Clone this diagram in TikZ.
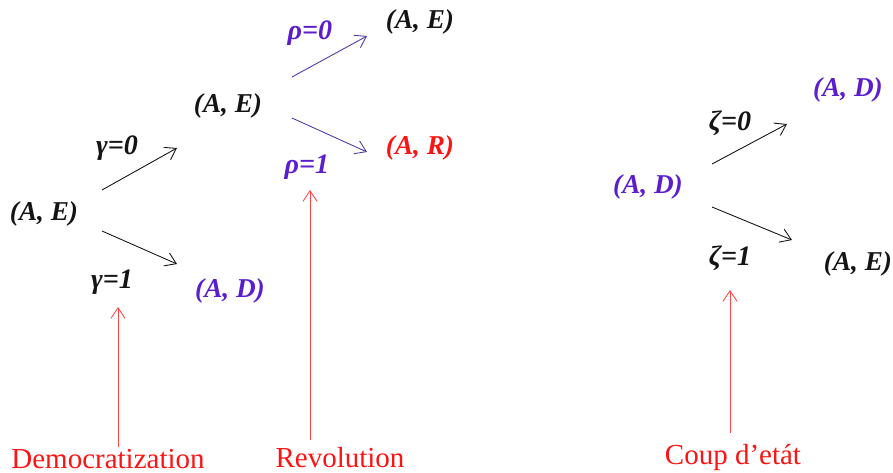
\documentclass[tikz,border=0pt]{standalone}
\usepackage{fontspec}
\setmainfont{Liberation Serif}
\usetikzlibrary{arrows.meta,positioning}
\definecolor{GameBlack}{RGB}{20,20,20}
\definecolor{GamePurple}{RGB}{92,30,205}
\definecolor{GameArrowPurple}{RGB}{78,58,168}
\definecolor{GameRed}{RGB}{250,20,20}
\definecolor{GameArrowRed}{RGB}{255,70,70}

\begin{document}
\begin{tikzpicture}[
x=0.02cm,y=-0.02cm,
outcome/.style={
font=\fontsize{15.5}{18}\selectfont\bfseries\itshape,
inner sep=1pt
},
choice/.style={
font=\fontsize{16}{18}\selectfont\bfseries\itshape,
inner sep=1pt
},
event/.style={
text=GameRed,
font=\fontsize{16.5}{19}\selectfont,
inner sep=1pt
},
move/.style={
-{Straight Barb[length=6pt,width=8pt]},
line width=0.5pt
},
pointer/.style={
-{Straight Barb[length=6pt,width=8pt]},
draw=GameArrowRed,
line width=0.5pt
}
]
\useasboundingbox (0,0) rectangle (893,473);

% democratization tree
\node[outcome,text=GameBlack] (root) at (44,214) {(A, E)};
\node[outcome,text=GameBlack] (keep) at (228,106) {(A, E)};
\node[outcome,text=GamePurple] (demo) at (230,291) {(A, D)};
\node[choice,text=GameBlack] (g0) at (117,148) {γ=0};
\node[choice,text=GameBlack] (g1) at (112,282) {γ=1};

\coordinate (g0s) at (102,190);
\coordinate (g0e) at (177,148);
\coordinate (g1s) at (102,231);
\coordinate (g1e) at (177,264);
\draw[move,GameBlack] (g0s) -- (g0e);
\draw[move,GameBlack] (g1s) -- (g1e);

% revolution tree
\node[outcome,text=GameBlack] (stay) at (420,22) {(A, E)};
\node[outcome,text=GameRed] (revo) at (420,148) {(A, R)};
\node[choice,text=GamePurple] (r0) at (310,33) {ρ=0};
\node[choice,text=GamePurple] (r1) at (307,167) {ρ=1};

\coordinate (r0s) at (292,77);
\coordinate (r0e) at (367,36);
\coordinate (r1s) at (292,118);
\coordinate (r1e) at (367,152);
\draw[move,GameArrowPurple] (r0s) -- (r0e);
\draw[move,GameArrowPurple] (r1s) -- (r1e);

% coup tree
\node[outcome,text=GamePurple] (droot) at (648,187) {(A, D)};
\node[outcome,text=GamePurple] (dkeep) at (848,90) {(A, D)};
\node[outcome,text=GameBlack] (coup) at (858,264) {(A, E)};
\node[choice,text=GameBlack] (z0) at (730,123) {ζ=0};
\node[choice,text=GameBlack] (z1) at (730,258) {ζ=1};

\coordinate (z0s) at (712,164);
\coordinate (z0e) at (787,124);
\coordinate (z1s) at (712,207);
\coordinate (z1e) at (792,240);
\draw[move,GameBlack] (z0s) -- (z0e);
\draw[move,GameBlack] (z1s) -- (z1e);

% event labels
\node[event] (ldemo) at (108,459) {Democratization};
\node[event] (lrevo) at (340,458) {Revolution};
\node[event] (lcoup) at (733,458) {Coup d’etát};

\coordinate (ptdemo) at (118,307);
\coordinate (ptrevo) at (310,190);
\coordinate (ptcoup) at (730,290);
\draw[pointer] (ptdemo |- ldemo.north) -- (ptdemo);
\draw[pointer] (310,440) -- (ptrevo);
\draw[pointer] (730,433) -- (ptcoup);
\end{tikzpicture}
\end{document}
